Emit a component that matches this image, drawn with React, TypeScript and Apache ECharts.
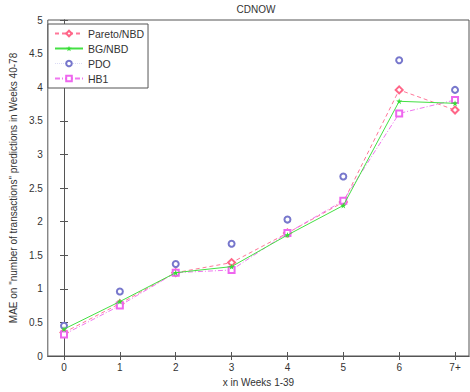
import React, { useEffect, useRef } from "react";
import * as echarts from "echarts";

const xValues = [0, 1, 2, 3, 4, 5, 6, 7];
const xTickLabels = ["0", "1", "2", "3", "4", "5", "6", "7+"];
const paretoNBD = [0.35, 0.78, 1.24, 1.39, 1.83, 2.29, 3.96, 3.66];
const bgNBD = [0.4, 0.81, 1.24, 1.33, 1.8, 2.24, 3.79, 3.76];
const pdo = [0.45, 0.96, 1.37, 1.67, 2.03, 2.67, 4.4, 3.96];
const hb1 = [0.32, 0.75, 1.24, 1.28, 1.83, 2.31, 3.61, 3.81];

const FONT = "Liberation Sans";
const STAR = "path://M5,0 L6.2,3.6 L10,3.6 L6.9,5.8 L8.1,9.5 L5,7.2 L1.9,9.5 L3.1,5.8 L0,3.6 L3.8,3.6 Z";

export default function App() {
  const ref = useRef<HTMLDivElement>(null);
  useEffect(() => {
    const chart = echarts.init(ref.current!, null, { renderer: "svg" });
    const pts = (arr: number[]) => arr.map((v, i) => [xValues[i], v]);
    const xMin = -0.29;
    const xMax = 7.25;
    const axisLabelStyle = { color: "#333", fontFamily: FONT, fontSize: 10 };
    chart.setOption({
      animation: false,
      backgroundColor: "#fff",
      graphic: [
        {
          type: "text",
          x: 256,
          y: 4,
          style: { text: "CDNOW", fontFamily: FONT, fontSize: 10, fill: "#333", textAlign: "center" },
        },
      ],
      grid: { left: 43, right: 1, top: 20, bottom: 34, show: true, borderColor: "#555", borderWidth: 1 },
      legend: {
        orient: "vertical",
        left: 48,
        top: 24,
        padding: [4, 4, 4, 6],
        itemGap: 4,
        itemWidth: 28,
        itemHeight: 7,
        borderColor: "#555",
        borderWidth: 1,
        backgroundColor: "#fff",
        textStyle: { fontFamily: FONT, fontSize: 10.5, color: "#333" },
        data: [
          { name: "Pareto/NBD" },
          { name: "BG/NBD" },
          { name: "PDO", lineStyle: { opacity: 0.3, type: "dotted", color: "#8888dd", width: 1 } },
          { name: "HB1" },
        ],
      },
      xAxis: [
        {
          type: "value",
          min: xMin,
          max: xMax,
          name: "x in Weeks 1-39",
          nameLocation: "middle",
          nameGap: 21,
          nameTextStyle: { fontFamily: FONT, fontSize: 10, color: "#333" },
          axisLine: { show: true, lineStyle: { color: "#555" } },
          axisTick: { show: true, inside: true, length: 4, customValues: xValues, lineStyle: { color: "#555" } },
          axisLabel: {
            ...axisLabelStyle,
            margin: 6,
            customValues: xValues,
            formatter: (v: number) => xTickLabels[Math.round(v)] ?? "",
          },
          splitLine: { show: false },
        },
        {
          type: "value",
          position: "top",
          min: xMin,
          max: xMax,
          axisLine: { show: true, lineStyle: { color: "#555" } },
          axisTick: { show: true, inside: true, length: 4, customValues: xValues, lineStyle: { color: "#555" } },
          axisLabel: { show: false },
          splitLine: { show: false },
        },
      ],
      yAxis: [
        {
          type: "value",
          min: 0,
          max: 5,
          interval: 0.5,
          name: 'MAE on "number of transactions" predictions in Weeks 40-78',
          nameLocation: "middle",
          nameGap: 25,
          nameTextStyle: { fontFamily: FONT, fontSize: 10, color: "#333" },
          axisLine: { show: true, lineStyle: { color: "#555" } },
          axisTick: { show: true, inside: true, length: 4, lineStyle: { color: "#555" } },
          axisLabel: { ...axisLabelStyle, margin: 5 },
          splitLine: { show: false },
        },
        {
          type: "value",
          position: "right",
          min: 0,
          max: 5,
          interval: 0.5,
          axisLine: { show: true, lineStyle: { color: "#555" } },
          axisTick: { show: true, inside: true, length: 4, lineStyle: { color: "#555" } },
          axisLabel: { show: false },
          splitLine: { show: false },
        },
      ],
      series: [
        {
          name: "Pareto/NBD",
          type: "line",
          data: pts(paretoNBD),
          symbol: "emptyDiamond",
          symbolSize: 7,
          color: "#ff6688",
          lineStyle: { width: 1, type: [4, 3], color: "#ff7799" },
          itemStyle: { color: "#ff6688", borderWidth: 1 },
          z: 3,
        },
        {
          name: "BG/NBD",
          type: "line",
          data: pts(bgNBD),
          symbol: STAR,
          symbolSize: 6,
          color: "#33dd33",
          lineStyle: { width: 1, color: "#44e044" },
          itemStyle: { color: "#33dd33" },
          z: 4,
        },
        {
          name: "PDO",
          type: "line",
          data: pts(pdo),
          symbol: "emptyCircle",
          symbolSize: 6,
          color: "#7777cc",
          lineStyle: { width: 0, opacity: 0 },
          itemStyle: { color: "#7777cc", borderWidth: 1 },
          z: 2,
        },
        {
          name: "HB1",
          type: "line",
          data: pts(hb1),
          symbol: "emptyRect",
          symbolSize: 6,
          color: "#ee66ee",
          lineStyle: { width: 1, type: [5, 2, 1, 2], color: "#f077f0" },
          itemStyle: { color: "#ee66ee", borderWidth: 1 },
          z: 3,
        },
      ],
    });
    return () => chart.dispose();
  }, []);
  return <div ref={ref} style={{ width: 470, height: 392, position: "absolute", left: 0, top: 0 }} />;
}
